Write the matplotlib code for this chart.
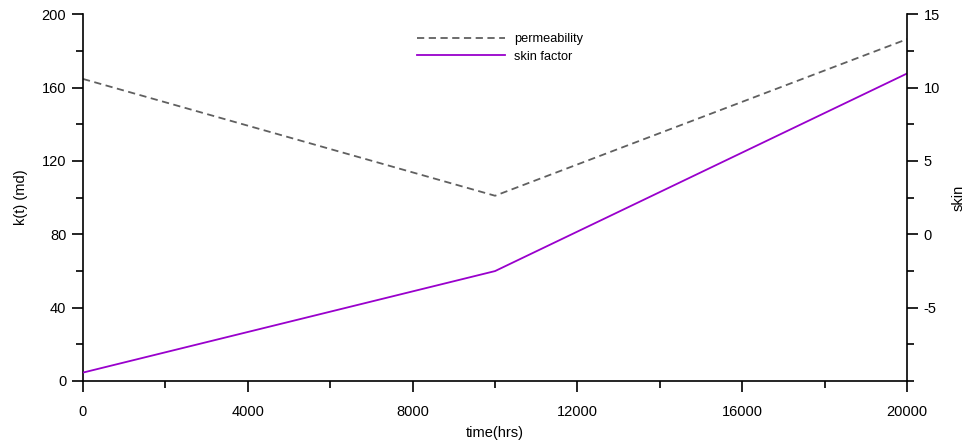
import numpy as np
import matplotlib
matplotlib.use('Agg')
import matplotlib.pyplot as plt
from matplotlib.ticker import MultipleLocator

plt.rcParams['font.family'] = ['Liberation Sans', 'DejaVu Sans']
plt.rcParams['axes.unicode_minus'] = False

# data
time_hrs = [0, 10000, 20000]
perm_md = [164.7, 101.0, 186.4]
skin = [-9.43, -2.51, 10.96]

fig = plt.figure(figsize=(9.65, 4.44), dpi=100)
ax = fig.add_axes([0.086, 0.142, 0.854, 0.826])
ax2 = ax.twinx()

l1, = ax.plot(time_hrs, perm_md, ls=(0, (4, 2.5)), color='#606060', lw=1.3, label='permeability')
l2, = ax2.plot(time_hrs, skin, color='#9900cc', lw=1.3, label='skin factor')

ax.set_xlim(0, 20000)
ax.set_ylim(0, 200)
ax2.set_ylim(-10, 15)

ax.xaxis.set_major_locator(MultipleLocator(4000))
ax.xaxis.set_minor_locator(MultipleLocator(2000))
ax.yaxis.set_major_locator(MultipleLocator(40))
ax.yaxis.set_minor_locator(MultipleLocator(20))
ax2.set_yticks([-5, 0, 5, 10, 15])
ax2.yaxis.set_minor_locator(MultipleLocator(2.5))

for a in (ax, ax2):
    a.spines['top'].set_visible(False)
    for s in a.spines.values():
        s.set_linewidth(1.2)
    a.tick_params(which='major', direction='out', length=8, width=1.2, labelsize=10.5, pad=4)
    a.tick_params(which='minor', direction='out', length=5, width=1.2)
ax.spines['right'].set_visible(False)
ax2.spines['left'].set_visible(False)
ax2.spines['bottom'].set_visible(False)
ax.tick_params(axis='x', pad=9)

ax.set_xlabel('time(hrs)', fontsize=10.5, labelpad=5)
ax.set_ylabel('k(t) (md)', fontsize=10.5, labelpad=10)
ax2.set_ylabel('skin', fontsize=10.5, labelpad=8)

ax.legend([l1, l2], ['permeability', 'skin factor'], loc='upper center',
          bbox_to_anchor=(0.506, 0.98), frameon=False, fontsize=9.2,
          handlelength=6.9, handletextpad=0.7, labelspacing=0.45)

fig.savefig('out.png', dpi=100)
